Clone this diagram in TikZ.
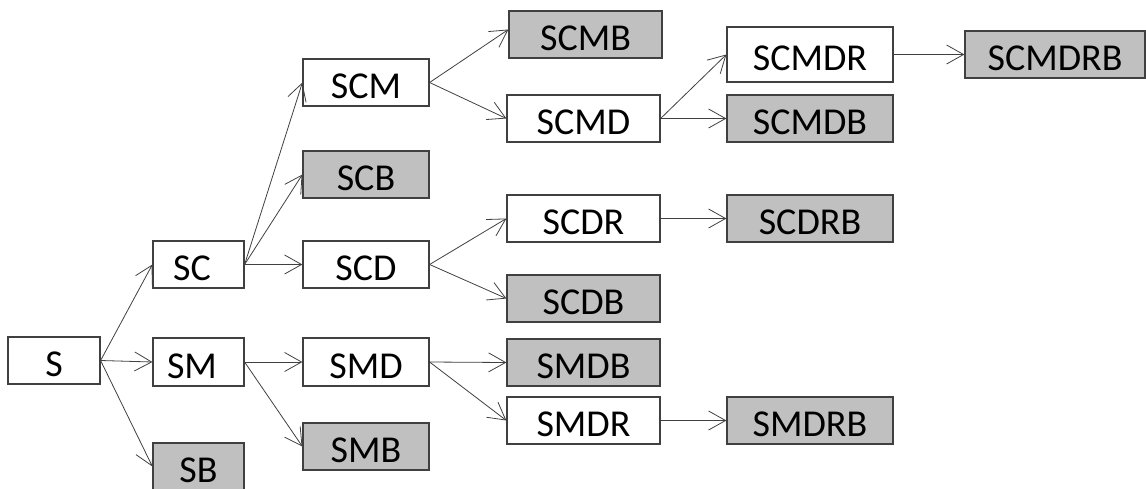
\documentclass[tikz,border=0pt]{standalone}
\usepackage{fontspec}
\setmainfont{Carlito}
\usetikzlibrary{arrows.meta}
\definecolor{edgegray}{RGB}{64,64,64}
\definecolor{leafgray}{RGB}{192,192,192}
\tikzset{
  box/.style={draw=edgegray, line width=1.2pt, fill=white, inner sep=0pt,
    minimum height=47pt, text height=32pt, text depth=0pt,
    font=\fontsize{38}{42}\selectfont},
  leaf/.style={box, fill=leafgray},
  wA/.style={minimum width=91pt},
  wB/.style={minimum width=126pt},
  wC/.style={minimum width=153pt},
  wD/.style={minimum width=166pt},
  link/.style={draw=edgegray, line width=0.8pt,
    -{Straight Barb[length=17pt, width=19pt, line width=0.8pt]}}
}
\begin{document}
\begin{tikzpicture}[x=1pt, y=-1pt]
\useasboundingbox (0,0) rectangle (1146,488);

% first level
\node[box, minimum width=92pt] (S) at (54,360.5) {S};
\node[box, wA] (SC) at (198.5,264.5) {\hspace*{-13pt}SC};
\node[box, wA, minimum height=48pt] (SM) at (198.5,362) {\hspace*{-13pt}SM};
\node[leaf, wA] (SB) at (198.5,466.5) {SB};

% second level
\node[box, wB] (SCM) at (366,82.5) {SCM};
\node[leaf, wB] (SCB) at (366,174.5) {SCB};
\node[box, wB] (SCD) at (366,264.5) {SCD};
\node[box, wB, minimum height=48pt] (SMD) at (366,362) {SMD};
\node[leaf, wB] (SMB) at (366,446.5) {SMB};

% third level
\node[leaf, wC] (SCMB) at (585.5,34.5) {SCMB};
\node[box, wC] (SCMD) at (583.5,118.5) {SCMD};
\node[box, wC] (SCDR) at (583.5,218.5) {SCDR};
\node[leaf, wC] (SCDB) at (583.5,298.5) {SCDB};
\node[leaf, wC] (SMDB) at (583.5,362.5) {SMDB};
\node[box, wC] (SMDR) at (583.5,420.5) {SMDR};

% fourth level
\node[box, wD, minimum height=55pt] (SCMDR) at (810,54.5) {SCMDR};
\node[leaf, wD] (SCMDB) at (810,118.5) {SCMDB};
\node[leaf, wD] (SCDRB) at (810,218.5) {SCDRB};
\node[leaf, wD] (SMDRB) at (810,420.5) {SMDRB};

% fifth level
\node[leaf, minimum width=180pt] (SCMDRB) at (1055,54.5) {SCMDRB};

% connectors
\draw[link] (S.east) -- (SC.west);
\draw[link] (S.east) -- (SM.west);
\draw[link] (S.east) -- (SB.west);

\draw[link] (SC.east) -- (SCM.west);
\draw[link] (SC.east) -- (SCB.west);
\draw[link] (SC.east) -- (SCD.west);
\draw[link] (SM.east) -- (SMD.west);
\draw[link] (SM.east) -- (SMB.west);

\draw[link] (SCM.east) -- ([yshift=5pt]SCMB.west);
\draw[link] (SCM.east) -- (SCMD.west);
\draw[link] (SCD.east) -- (SCDR.west);
\draw[link] (SCD.east) -- (SCDB.west);
\draw[link] (SMD.east) -- (SMDB.west);
\draw[link] (SMD.east) -- (SMDR.west);

\draw[link] (SCMD.east) -- (SCMDR.west);
\draw[link] (SCMD.east) -- (SCMDB.west);
\draw[link] (SCDR.east) -- (SCDRB.west);
\draw[link] (SMDR.east) -- (SMDRB.west);

\draw[link] (SCMDR.east) -- (SCMDRB.west);
\end{tikzpicture}
\end{document}
